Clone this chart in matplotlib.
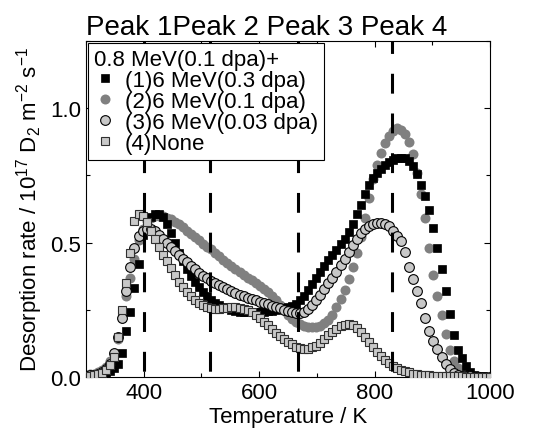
import numpy as np
import matplotlib
matplotlib.use("Agg")
import matplotlib.pyplot as plt
from matplotlib.ticker import MultipleLocator, FormatStrFormatter

plt.rcParams['font.family'] = ['Liberation Sans', 'DejaVu Sans']
plt.rcParams['mathtext.fontset'] = 'custom'
plt.rcParams['mathtext.rm'] = 'Liberation Sans'
plt.rcParams['mathtext.it'] = 'Liberation Sans:italic'

# ---- data ----
temperature = np.arange(300, 1001, 7)

rate_03dpa = [0.003, 0.004, 0.005, 0.006, 0.009, 0.013, 0.022, 0.033, 0.05, 0.09,
              0.17, 0.24, 0.33, 0.42, 0.53, 0.575, 0.597, 0.605, 0.605, 0.595,
              0.57, 0.535, 0.50, 0.46, 0.43, 0.40, 0.375, 0.352, 0.335, 0.318,
              0.30, 0.287, 0.277, 0.268, 0.262, 0.255, 0.25, 0.246, 0.243, 0.24,
              0.24, 0.24, 0.24, 0.24, 0.242, 0.244, 0.247, 0.25, 0.252, 0.255,
              0.259, 0.265, 0.273, 0.286, 0.303, 0.322, 0.345, 0.367, 0.39, 0.413,
              0.435, 0.453, 0.472, 0.495, 0.515, 0.54, 0.57, 0.605, 0.64, 0.68,
              0.715, 0.74, 0.76, 0.775, 0.79, 0.80, 0.808, 0.813, 0.815, 0.815,
              0.805, 0.785, 0.755, 0.715, 0.675, 0.62, 0.555, 0.48, 0.40, 0.32,
              0.235, 0.155, 0.10, 0.07, 0.04, 0.02, 0.008, 0.004, 0.002, 0.001,
              0.001]

rate_01dpa = [0.008, 0.01, 0.013, 0.018, 0.026, 0.038, 0.058, 0.085, 0.14, 0.22,
              0.30, 0.37, 0.44, 0.51, 0.55, 0.58, 0.593, 0.60, 0.60, 0.598,
              0.593, 0.586, 0.578, 0.568, 0.557, 0.545, 0.533, 0.52, 0.508, 0.495,
              0.485, 0.475, 0.462, 0.45, 0.437, 0.424, 0.413, 0.402, 0.39, 0.38,
              0.37, 0.36, 0.35, 0.34, 0.328, 0.315, 0.30, 0.285, 0.268, 0.25,
              0.232, 0.217, 0.205, 0.197, 0.19, 0.186, 0.185, 0.186, 0.19, 0.20,
              0.213, 0.232, 0.26, 0.29, 0.325, 0.365, 0.41, 0.46, 0.52, 0.59,
              0.665, 0.735, 0.79, 0.835, 0.87, 0.895, 0.915, 0.925, 0.92, 0.905,
              0.875, 0.83, 0.76, 0.68, 0.59, 0.48, 0.38, 0.30, 0.23, 0.16,
              0.10, 0.06, 0.035, 0.02, 0.011, 0.006, 0.003, 0.002, 0.001, 0.001,
              0.001]

rate_003dpa = [0.005, 0.006, 0.008, 0.012, 0.018, 0.03, 0.05, 0.09, 0.15, 0.22,
               0.32, 0.41, 0.48, 0.525, 0.545, 0.55, 0.55, 0.545, 0.53, 0.515,
               0.50, 0.485, 0.47, 0.455, 0.44, 0.428, 0.414, 0.40, 0.388, 0.377,
               0.367, 0.358, 0.35, 0.342, 0.335, 0.328, 0.32, 0.313, 0.306, 0.30,
               0.295, 0.29, 0.285, 0.28, 0.275, 0.27, 0.265, 0.26, 0.255, 0.25,
               0.245, 0.24, 0.237, 0.238, 0.243, 0.253, 0.268, 0.285, 0.305, 0.327,
               0.348, 0.368, 0.39, 0.415, 0.44, 0.465, 0.49, 0.515, 0.535, 0.55,
               0.56, 0.568, 0.573, 0.574, 0.57, 0.56, 0.545, 0.525, 0.505, 0.465,
               0.41, 0.365, 0.32, 0.275, 0.22, 0.17, 0.135, 0.105, 0.075, 0.048,
               0.028, 0.016, 0.009, 0.005, 0.003, 0.002, 0.001, 0.001, 0.001, 0.001,
               0.001]

rate_none = [0.004, 0.005, 0.007, 0.01, 0.016, 0.027, 0.045, 0.075, 0.15, 0.25,
             0.35, 0.46, 0.58, 0.605, 0.60, 0.575, 0.545, 0.515, 0.485, 0.455,
             0.43, 0.405, 0.38, 0.355, 0.335, 0.317, 0.30, 0.287, 0.275, 0.266,
             0.26, 0.256, 0.254, 0.254, 0.255, 0.257, 0.259, 0.26, 0.258, 0.254,
             0.248, 0.24, 0.23, 0.218, 0.205, 0.192, 0.178, 0.165, 0.152, 0.14,
             0.13, 0.121, 0.113, 0.107, 0.105, 0.106, 0.11, 0.117, 0.127, 0.14,
             0.155, 0.168, 0.18, 0.19, 0.195, 0.196, 0.192, 0.183, 0.168, 0.15,
             0.13, 0.11, 0.092, 0.077, 0.064, 0.052, 0.042, 0.034, 0.027, 0.021,
             0.017, 0.013, 0.011, 0.009, 0.007, 0.006, 0.005, 0.004, 0.004, 0.003,
             0.003, 0.002, 0.002, 0.002, 0.001, 0.001, 0.001, 0.001, 0.001, 0.001,
             0.001]

labels = ["(1)6 MeV(0.3 dpa)", "(2)6 MeV(0.1 dpa)",
          "(3)6 MeV(0.03 dpa)", "(4)None"]
legend_title = "0.8 MeV(0.1 dpa)+"
peak_positions = [400, 515, 667, 830]
peak_title = "Peak 1Peak 2 Peak 3 Peak 4"

# ---- figure ----
fig = plt.figure(figsize=(5.42, 4.35), dpi=100)
left, right, bottom, top = 86 / 542, 490 / 542, 1 - 378 / 435, 1 - 42 / 435
ax = fig.add_axes([left, bottom, right - left, top - bottom])

h1, = ax.plot(temperature, rate_03dpa, ls='none', marker='s', ms=6.3,
              mfc='black', mec='black', mew=0.5, zorder=3, label=labels[0])
h2, = ax.plot(temperature, rate_01dpa, ls='none', marker='o', ms=7.2,
              mfc='#808080', mec='#808080', mew=0.0, zorder=2, label=labels[1])
h3, = ax.plot(temperature, rate_003dpa, ls='none', marker='o', ms=7.0,
              mfc='#c8c8c8', mec='black', mew=0.8, zorder=4, label=labels[2])
h4, = ax.plot(temperature, rate_none, ls='none', marker='s', ms=6.1,
              mfc='#c8c8c8', mec='#303030', mew=0.8, zorder=5, label=labels[3])

for p in peak_positions:
    ax.axvline(p, color='black', lw=2.2, ls=(11.1, (6.5, 6.5)), zorder=6)

ax.set_xlim(300, 1000)
ax.set_ylim(0, 1.25)
ax.xaxis.set_major_locator(MultipleLocator(200))
ax.xaxis.set_minor_locator(MultipleLocator(100))
ax.yaxis.set_major_locator(MultipleLocator(0.5))
ax.yaxis.set_minor_locator(MultipleLocator(0.25))
ax.yaxis.set_major_formatter(FormatStrFormatter('%.1f'))
ax.tick_params(which='both', direction='in', top=True, right=True,
               labelsize=16, width=0.8)
ax.tick_params(which='major', length=4.5)
ax.tick_params(which='minor', length=3)
for s in ax.spines.values():
    s.set_linewidth(0.8)

ax.set_xlabel("Temperature / K", fontsize=16, labelpad=2)
ax.set_ylabel("Desorption rate / 10$^{17}$ D$_2$ m$^{-2}$ s$^{-1}$",
              fontsize=16, labelpad=4)

leg = ax.legend(handles=[h1, h2, h3, h4], title=legend_title, loc='upper left',
                fontsize=16, title_fontsize=16, frameon=True, fancybox=False,
                framealpha=1, edgecolor='black', borderpad=0.28,
                labelspacing=0.0, handlelength=1.0, handletextpad=0.4,
                borderaxespad=0.08, alignment='left')
leg.get_frame().set_linewidth(0.8)
leg.set_zorder(10)

fig.text(86 / 542, 0.92, peak_title, fontsize=20, ha='left', va='baseline')

fig.savefig("out.png", dpi=100)
